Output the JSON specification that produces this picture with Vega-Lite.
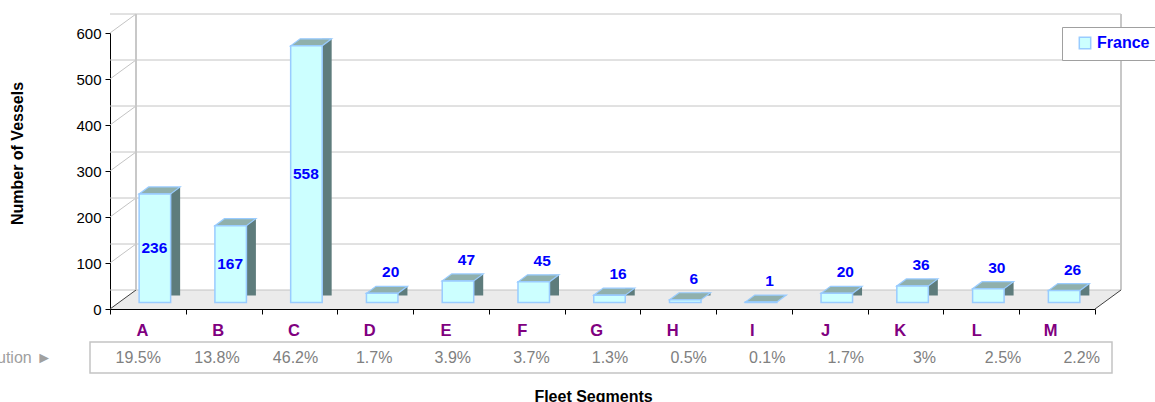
{
  "$schema": "https://vega.github.io/schema/vega-lite/v6.json",
  "width": 985,
  "height": 276,
  "autosize": {"type": "none"},
  "padding": {"left": 110, "top": 33, "right": 60, "bottom": 93},
  "background": "white",
  "config": {"view": {"stroke": null}, "font": "Liberation Sans"},
  "datasets": {
    "fleet": [
      {"segment": "A", "vessels": 236},
      {"segment": "B", "vessels": 167},
      {"segment": "C", "vessels": 558},
      {"segment": "D", "vessels": 20},
      {"segment": "E", "vessels": 47},
      {"segment": "F", "vessels": 45},
      {"segment": "G", "vessels": 16},
      {"segment": "H", "vessels": 6},
      {"segment": "I", "vessels": 1},
      {"segment": "J", "vessels": 20},
      {"segment": "K", "vessels": 36},
      {"segment": "L", "vessels": 30},
      {"segment": "M", "vessels": 26}
    ],
    "dist": [
      {"segment": "A", "share": "19.5%"},
      {"segment": "B", "share": "13.8%"},
      {"segment": "C", "share": "46.2%"},
      {"segment": "D", "share": "1.7%"},
      {"segment": "E", "share": "3.9%"},
      {"segment": "F", "share": "3.7%"},
      {"segment": "G", "share": "1.3%"},
      {"segment": "H", "share": "0.5%"},
      {"segment": "I", "share": "0.1%"},
      {"segment": "J", "share": "1.7%"},
      {"segment": "K", "share": "3%"},
      {"segment": "L", "share": "2.5%"},
      {"segment": "M", "share": "2.2%"}
    ],
    "gridlines": [
      {"v": 0}, {"v": 100}, {"v": 200}, {"v": 300}, {"v": 400}, {"v": 500}, {"v": 600}
    ]
  },
  "resolve": {
    "scale": {"x": "independent", "y": "independent"},
    "axis": {"x": "independent", "y": "independent"}
  },
  "layer": [
    {
      "layer": [
        {
          "data": {"values": [{"part": "floor"}]},
          "mark": {"type": "point", "filled": true, "opacity": 1, "fill": "#EBEBEB", "strokeWidth": 0, "size": 10000, "shape": "M0,0L19.7,0L20.22,-0.38L0.52,-0.38Z"},
          "encoding": {
            "x": {"datum": "A", "bandPosition": 0, "type": "nominal", "scale": {"domain": ["A","B","C","D","E","F","G","H","I","J","K","L","M"], "paddingInner": 0, "paddingOuter": 0}},
            "y": {"datum": 0, "type": "quantitative", "scale": {"domain": [0, 600], "nice": false}}
          }
        },
        {
          "data": {"name": "gridlines"},
          "mark": {"type": "rule", "color": "#C4C4C4", "strokeWidth": 1, "xOffset": 26, "x2Offset": 26, "yOffset": -19},
          "encoding": {
            "y": {"field": "v", "type": "quantitative"}
          }
        },
        {
          "data": {"name": "gridlines"},
          "mark": {"type": "rule", "strokeWidth": 1, "x2Offset": 26, "y2Offset": -19},
          "encoding": {
            "x": {"datum": "A", "bandPosition": 0, "type": "nominal"},
            "x2": {"datum": "A", "bandPosition": 0},
            "y": {"field": "v", "type": "quantitative"},
            "y2": {"field": "v"},
            "color": {"condition": {"test": "datum.v === 0", "value": "#404040"}, "value": "#C4C4C4"}
          }
        },
        {
          "data": {"values": [{"part": "left wall edge"}]},
          "mark": {"type": "rule", "color": "#C8C8C8", "strokeWidth": 2, "xOffset": 26, "yOffset": -19, "y2Offset": -19},
          "encoding": {
            "x": {"datum": "A", "bandPosition": 0, "type": "nominal"},
            "y": {"datum": 0, "type": "quantitative"},
            "y2": {"datum": 600}
          }
        },
        {
          "data": {"values": [{"part": "right wall edge"}]},
          "mark": {"type": "rule", "color": "#C8C8C8", "strokeWidth": 2, "xOffset": 26, "yOffset": -19, "y2Offset": -19},
          "encoding": {
            "x": {"datum": "M", "bandPosition": 1, "type": "nominal"},
            "y": {"datum": 0, "type": "quantitative"},
            "y2": {"datum": 600}
          }
        },
        {
          "data": {"values": [{"part": "floor right edge"}]},
          "mark": {"type": "rule", "color": "#404040", "strokeWidth": 1, "x2Offset": 26, "y2Offset": -19},
          "encoding": {
            "x": {"datum": "M", "bandPosition": 1, "type": "nominal"},
            "x2": {"datum": "M", "bandPosition": 1},
            "y": {"datum": 0, "type": "quantitative"},
            "y2": {"datum": 0}
          }
        },
        {
          "data": {"name": "fleet"},
          "mark": {"type": "bar", "color": "#5E7C7C", "width": 9.5, "xOffset": 27.5, "yOffset": -13.5, "y2Offset": -10},
          "encoding": {
            "x": {"field": "segment", "type": "nominal"},
            "y": {"field": "vessels", "type": "quantitative"}
          }
        },
        {
          "data": {"name": "fleet"},
          "mark": {"type": "point", "filled": true, "opacity": 1, "fill": "#90B0AC", "stroke": "#99CCFF", "strokeWidth": 1.2, "size": 2500, "xOffset": 7, "yOffset": -6.5, "shape": "M-0.63,0L0.63,0L1.01,-0.28L-0.25,-0.28Z"},
          "encoding": {
            "x": {"field": "segment", "type": "nominal"},
            "y": {"field": "vessels", "type": "quantitative"}
          }
        },
        {
          "data": {"name": "fleet"},
          "mark": {"type": "bar", "stroke": "#99CCFF", "strokeWidth": 1.5, "width": 31.5, "xOffset": 7, "yOffset": -6.5, "y2Offset": -6.5},
          "encoding": {
            "x": {
              "field": "segment", "type": "nominal",
              "axis": {
                "title": "Fleet Segments", "titleFontSize": 16, "titleFontWeight": "bold", "titleColor": "black",
                "titleX": 483, "titleY": 92, "titleBaseline": "alphabetic", "titleAlign": "center",
                "labelAngle": 0, "labelColor": "#800080", "labelFontWeight": "bold", "labelFontSize": 16.5, "labelPadding": 16,
                "tickBand": "extent", "tickSize": 5, "tickColor": "black", "domainColor": "black", "grid": false
              }
            },
            "y": {
              "field": "vessels", "type": "quantitative",
              "axis": {
                "title": "Number of Vessels", "titleFontSize": 16, "titleFontWeight": "bold", "titleColor": "black",
                "titleX": -93, "titleY": 120, "titleAngle": -90, "titleAlign": "center", "titleBaseline": "middle",
                "values": [0, 100, 200, 300, 400, 500, 600], "grid": false,
                "domainColor": "black", "tickColor": "black", "tickSize": 5,
                "labelFontSize": 15, "labelColor": "black", "labelPadding": 4
              }
            },
            "color": {
              "datum": "France", "type": "nominal",
              "scale": {"range": ["#CCFFFF"]},
              "legend": {
                "orient": "none", "legendX": 952, "legendY": -6, "title": null,
                "fillColor": "white", "strokeColor": "#A0A0A0", "padding": 8,
                "symbolType": "square", "symbolSize": 130, "symbolStrokeColor": "#99CCFF", "symbolStrokeWidth": 1.5,
                "symbolOffset": 7, "labelFontSize": 16, "labelFontWeight": "bold", "labelColor": "#0000FF", "labelOffset": 4
              }
            }
          }
        },
        {
          "data": {"name": "fleet"},
          "transform": [{"filter": "datum.vessels <= 100"}],
          "mark": {"type": "text", "fontSize": 15.5, "fontWeight": "bold", "color": "#0000FF", "baseline": "middle", "dx": 15.5, "dy": -27.5},
          "encoding": {
            "x": {"field": "segment", "type": "nominal"},
            "y": {"field": "vessels", "type": "quantitative"},
            "text": {"field": "vessels"}
          }
        }
      ]
    },
    {
      "data": {"name": "fleet"},
      "transform": [{"filter": "datum.vessels > 100"}],
      "mark": {"type": "text", "fontSize": 15.5, "fontWeight": "bold", "color": "#0000FF", "baseline": "middle", "dx": 6.5, "dy": -6.5},
      "encoding": {
        "x": {"field": "segment", "type": "nominal", "scale": {"domain": ["A","B","C","D","E","F","G","H","I","J","K","L","M"], "paddingInner": 0, "paddingOuter": 0}, "axis": null},
        "y": {"field": "vessels", "type": "quantitative", "scale": {"domain": [0, 1200], "nice": false}, "axis": null},
        "text": {"field": "vessels"}
      }
    },
    {
      "layer": [
        {
          "data": {"values": [{"row": "Distribution"}]},
          "mark": {"type": "rect", "fill": null, "stroke": "#C4C4C4", "strokeWidth": 1.5, "yOffset": 33, "y2Offset": 64},
          "encoding": {
            "x": {"datum": "A", "bandPosition": 0, "type": "nominal", "scale": {"domain": ["A","B","C","D","E","F","G","H","I","J","K","L","M"], "range": [-20, 1002], "paddingInner": 0, "paddingOuter": 0}, "axis": null},
            "x2": {"datum": "M", "bandPosition": 1},
            "y": {"datum": 0, "type": "quantitative", "scale": {"domain": [0, 600], "nice": false}, "axis": null},
            "y2": {"datum": 0}
          }
        },
        {
          "data": {"name": "dist"},
          "mark": {"type": "text", "fontSize": 16, "color": "#808080", "baseline": "middle", "dx": 9, "dy": 48.5},
          "encoding": {
            "x": {"field": "segment", "type": "nominal", "axis": null},
            "y": {"datum": 0, "type": "quantitative", "axis": null},
            "text": {"field": "share"}
          }
        },
        {
          "data": {"values": [{"row": "Distribution ►"}]},
          "mark": {"type": "text", "fontSize": 16, "color": "#A0A0A0", "baseline": "middle", "align": "right", "dx": -38, "dy": 48.5},
          "encoding": {
            "x": {"datum": "A", "bandPosition": 0, "type": "nominal", "axis": null},
            "y": {"datum": 0, "type": "quantitative", "axis": null},
            "text": {"field": "row"}
          }
        }
      ]
    }
  ]
}
